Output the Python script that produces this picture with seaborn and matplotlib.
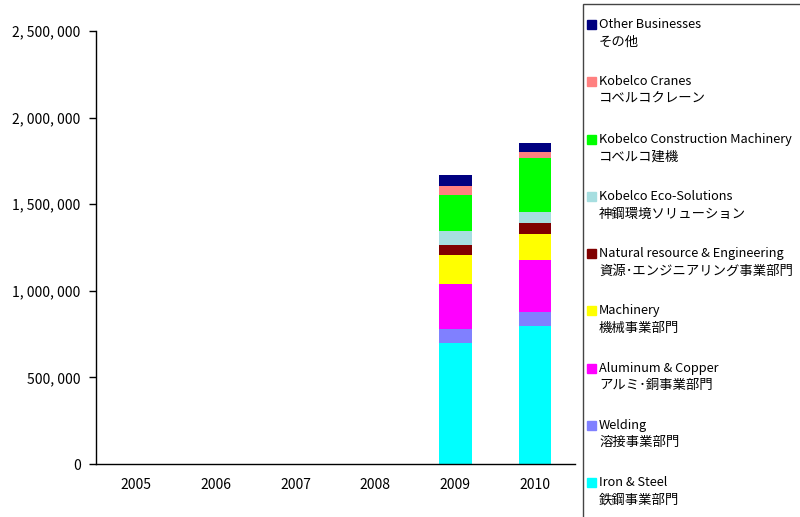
import numpy as np
import pandas as pd
import matplotlib
matplotlib.use("Agg")
import matplotlib.pyplot as plt
import seaborn as sns
from matplotlib.patches import Rectangle
from matplotlib.ticker import FuncFormatter, FixedLocator

# Data (segments listed bottom to top)
years = ["2005", "2006", "2007", "2008", "2009", "2010"]

labels_en = [
    "Iron & Steel",
    "Welding",
    "Aluminum & Copper",
    "Machinery",
    "Natural resource & Engineering",
    "Kobelco Eco-Solutions",
    "Kobelco Construction Machinery",
    "Kobelco Cranes",
    "Other Businesses",
]
labels_jp = [
    "鉄鋼事業部門",
    "溶接事業部門",
    "アルミ･銅事業部門",
    "機械事業部門",
    "資源･エンジニアリング事業部門",
    "神鋼環境ソリューション",
    "コベルコ建機",
    "コベルコクレーン",
    "その他",
]
colors = ["#00FFFF", "#8080FF", "#FF00FF", "#FFFF00", "#800000",
          "#A6DEE0", "#00FF00", "#FF8080", "#000080"]

iron_steel = [0, 0, 0, 0, 699000, 797000]
welding = [0, 0, 0, 0, 81000, 81000]
aluminum_copper = [0, 0, 0, 0, 260000, 300000]
machinery = [0, 0, 0, 0, 167000, 150000]
natural_resource = [0, 0, 0, 0, 58000, 64000]
eco_solutions = [0, 0, 0, 0, 81000, 64000]
construction = [0, 0, 0, 0, 208000, 312000]
cranes = [0, 0, 0, 0, 52000, 35000]
other = [0, 0, 0, 0, 64000, 52000]

series = [iron_steel, welding, aluminum_copper, machinery, natural_resource,
          eco_solutions, construction, cranes, other]

sns.set_style("white")
plt.rcParams["font.family"] = ["Noto Sans CJK JP", "DejaVu Sans"]

fig = plt.figure(figsize=(8, 5.17), dpi=100)
ax = fig.add_axes([96 / 800, 1 - 464 / 517, 479 / 800, 433 / 517])

# stacked bars: draw cumulative totals from top layer down
cum = np.cumsum(np.array(series), axis=0)
for i in range(len(series) - 1, -1, -1):
    df = pd.DataFrame({"year": years, "value": cum[i]})
    sns.barplot(data=df, x="year", y="value", order=years, color=colors[i],
                saturation=1, width=0.41, linewidth=0, errorbar=None, ax=ax)

ax.set_xlim(-0.5, 5.5)
ax.set_ylim(0, 2500000)
ax.set_yticks(np.arange(0, 2500001, 500000))
ax.yaxis.set_major_formatter(FuncFormatter(lambda v, p: f"{int(v):,}".replace(",", ", ")))
ax.set_xlabel("")
ax.set_ylabel("")

for s in ["top", "right"]:
    ax.spines[s].set_visible(False)
for s in ["left", "bottom"]:
    ax.spines[s].set_color("black")
    ax.spines[s].set_linewidth(1)

ax.tick_params(axis="x", which="major", length=0, pad=10, labelsize=10, colors="black")
ax.xaxis.set_minor_locator(FixedLocator(np.arange(-0.5, 6, 1)))
ax.tick_params(axis="x", which="minor", direction="in", length=5, width=1, color="black")
ax.tick_params(axis="y", which="major", direction="out", length=5, width=1, left=True,
               pad=6, labelsize=10, colors="black")

# legend box on the right
fig.patches.append(Rectangle((583 / 800, -0.05), 0.5, 1 - 4 / 517 + 0.05,
                             transform=fig.transFigure, fill=False,
                             edgecolor="#444444", linewidth=1))

for k, i in enumerate(range(len(series) - 1, -1, -1)):
    y = 24.7 + k * 57.25
    fig.patches.append(Rectangle((587 / 800, 1 - (y + 4.5) / 517), 9 / 800, 9 / 517,
                                 transform=fig.transFigure, color=colors[i]))
    fig.text(599 / 800, 1 - y / 517, labels_en[i], va="center", ha="left",
             fontsize=9.2, color="black")
    fig.text(599 / 800, 1 - (y + 17) / 517, labels_jp[i], va="center", ha="left",
             fontsize=9.6, color="black")

fig.savefig("out.png", dpi=100)
